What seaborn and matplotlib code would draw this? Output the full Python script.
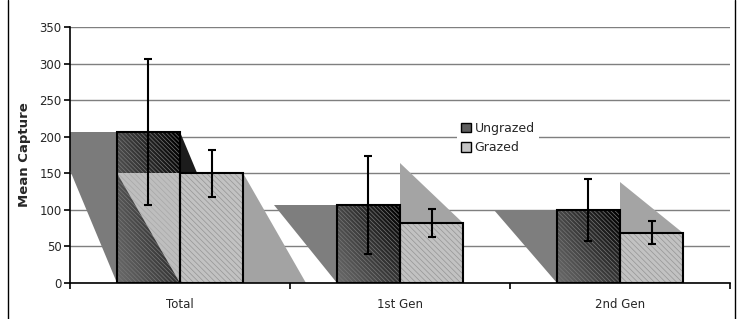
#!/usr/bin/env python3
"""
Mean capture by generation, ungrazed vs grazed plots (Excel-style bar chart)
"""
import numpy as np
import pandas as pd
import matplotlib
matplotlib.use("Agg")
import matplotlib.pyplot as plt
from matplotlib.patches import Rectangle, Polygon, Patch
from matplotlib.lines import Line2D
import seaborn as sns

groups = ["Total", "1st Gen", "2nd Gen"]
treatments = ["Ungrazed", "Grazed"]
ungrazed = [206, 106, 100]
grazed = [150, 82, 69]
ungrazed_err = [100, 67, 42]
grazed_err = [32, 19, 16]

sns.set_style("white")
plt.rcParams["font.family"] = ["DejaVu Sans"]
plt.rcParams["hatch.linewidth"] = 0.5

df = pd.DataFrame({
    "Group": groups * 2,
    "Treatment": [treatments[0]] * 3 + [treatments[1]] * 3,
    "Mean": ungrazed + grazed,
    "Err": ungrazed_err + grazed_err,
})

fig = plt.figure(figsize=(7.46, 3.19), dpi=100)
ax = fig.add_axes([70 / 746, 1 - 283 / 319, 660 / 746, 256 / 319])

sns.barplot(data=df, x="Group", y="Mean", hue="Treatment", order=groups,
            hue_order=treatments, errorbar=None, width=0.573, legend=False,
            facecolor="none", edgecolor="black", linewidth=1.5, ax=ax)

ax.set_xlim(-0.5, 2.5)
ax.set_ylim(0, 350)
ax.set_yticks(range(0, 351, 50))
ax.yaxis.grid(True, color="#7f7f7f", linewidth=1.0)
ax.set_axisbelow(True)

u_bars = list(ax.containers[0])
g_bars = list(ax.containers[1])
for b in u_bars + g_bars:
    b.set_zorder(3)

# gradient fill for ungrazed bars, flat fill for grazed bars, fine hatching on both
yy, xx = np.mgrid[0:1:50j, 0:1:50j]
grad = 0.42 - 0.22 * xx - 0.14 * yy - 0.08 * xx * yy
for b in u_bars:
    x0, y0, w, h = b.get_x(), b.get_y(), b.get_width(), b.get_height()
    im = ax.imshow(grad, cmap="gray", vmin=0, vmax=1, extent=(x0, x0 + w, y0, y0 + h),
                   origin="lower", aspect="auto", interpolation="bilinear", zorder=1.6)
    im.set_clip_path(b)
    ax.add_patch(Rectangle((x0, y0), w, h, facecolor="none", edgecolor="#777777",
                           linewidth=0, hatch="\\" * 8, zorder=2))
for b in g_bars:
    x0, y0, w, h = b.get_x(), b.get_y(), b.get_width(), b.get_height()
    ax.add_patch(Rectangle((x0, y0), w, h, facecolor="#c2c2c2", edgecolor="none",
                           linewidth=0, zorder=1.6))
    ax.add_patch(Rectangle((x0, y0), w, h, facecolor="none", edgecolor="#959595",
                           linewidth=0, hatch="\\" * 6, zorder=2))


# the odd 3-D shadow artefacts of the original, built from each bar's box
def shadow(b, kind):
    x0, w, h = b.get_x(), b.get_width(), b.get_height()
    x1 = x0 + w
    if kind == "left":
        return [(x0 - w, h), (x0, h), (x0, 0)]
    if kind == "right":
        return [(x1, h), (x1, 0), (x1 + w, 0)]
    return [(x0, 2 * h), (x0, h), (x1, h)]


shadows = [
    (u_bars[0], "left", "#7b7b7b", 1.2, None),
    (u_bars[0], "right", "#1c1c1c", 1.2, None),
    (g_bars[0], "right", "#a3a3a3", 1.3, None),
    (g_bars[0], "left", "#bebebe", 2.1, "#a8a8a8"),
    (u_bars[1], "left", "#7e7e7e", 1.2, None),
    (g_bars[1], "up", "#a4a4a4", 1.2, None),
    (u_bars[2], "left", "#7e7e7e", 1.2, None),
    (g_bars[2], "up", "#a4a4a4", 1.2, None),
]
for b, kind, col, z, hcol in shadows:
    ax.add_patch(Polygon(shadow(b, kind), closed=True, facecolor=col,
                         edgecolor="none", zorder=z))
    if hcol:
        ax.add_patch(Polygon(shadow(b, kind), closed=True, facecolor="none",
                             edgecolor=hcol, linewidth=0, hatch="\\" * 6, zorder=z))

# error bars
for bars, err in [(u_bars, ungrazed_err), (g_bars, grazed_err)]:
    xs = [b.get_x() + b.get_width() / 2 for b in bars]
    hs = [b.get_height() for b in bars]
    ax.errorbar(xs, hs, yerr=err, fmt="none", ecolor="black", elinewidth=1.5,
                capsize=3.2, capthick=1.5, zorder=4)

# axes styling
for s in ["top", "right"]:
    ax.spines[s].set_visible(False)
for s in ["left", "bottom"]:
    ax.spines[s].set_color("black")
    ax.spines[s].set_linewidth(1.2)
ax.set_xlabel("")
ax.set_ylabel("Mean Capture", fontsize=9.5, fontweight="bold", labelpad=6)
ax.tick_params(axis="y", left=True, length=4, width=1.2, color="black",
               labelsize=8.5, pad=2)
ax.tick_params(axis="x", bottom=False, labelsize=8.5, pad=7)
ax.set_xticks([-0.5, 0.5, 1.5, 2.5], minor=True)
ax.tick_params(axis="x", which="minor", bottom=True, length=4, width=1.2,
               color="black")

# legend
handles = [Patch(facecolor="#5e5e5e", edgecolor="black", linewidth=1),
           Patch(facecolor="#c4c4c4", edgecolor="black", linewidth=1)]
leg = fig.legend(handles, treatments, loc="upper left",
                 bbox_to_anchor=(451 / 746, 1 - 112 / 319), fontsize=9,
                 frameon=True, fancybox=False, handlelength=0.8, handleheight=0.8,
                 handletextpad=0.3, labelspacing=0.5, borderpad=0.3)
leg.get_frame().set_facecolor("white")
leg.get_frame().set_edgecolor("none")
leg.get_frame().set_alpha(1)

# chart border (left and right edges visible in the original crop)
fig.add_artist(Line2D([8 / 746, 8 / 746], [0, 1], color="black", linewidth=1,
                      transform=fig.transFigure))
fig.add_artist(Line2D([735 / 746, 735 / 746], [0, 1], color="black", linewidth=1,
                      transform=fig.transFigure))

plt.savefig("out.png", dpi=100)
plt.close()
